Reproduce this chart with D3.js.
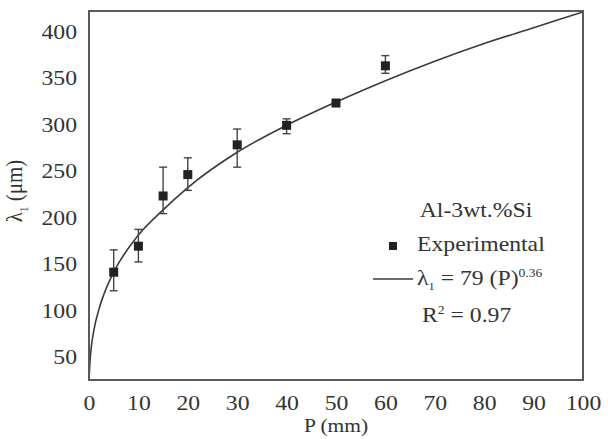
<!DOCTYPE html>
<html>
<head>
<meta charset="utf-8">
<script src="https://cdn.jsdelivr.net/npm/d3@7"></script>
<style>
  body { margin: 0; background: #fff; }
  svg { display: block; }
  text { font-family: "Liberation Serif", "Times New Roman", serif; fill: #333; }
</style>
</head>
<body>
<svg id="chart" width="608" height="439"></svg>
<script>
// ---- data ----
const positions = [5, 10, 15, 20, 30, 40, 50, 60];                 // P (mm)
const spacing   = [141, 169, 223, 246, 278, 299, 323, 363];        // λ1 (µm)
const errLow    = [121, 152, 204, 229, 254, 290, 320, 355];
const errHigh   = [165, 187, 254, 264, 295, 306, 326, 374];
// fitted curve λ1 = 79 (P)^0.36
const fitP      = [0, 0.2, 0.5, 1, 2, 3, 5, 10, 15, 20, 30, 40, 50, 60, 70, 80, 90, 100];
const fitL      = [25, 45, 62, 79, 101, 117, 141, 181, 208, 232, 270, 299, 324, 347, 368, 387, 404, 421];
const xTicks    = [0, 10, 20, 30, 40, 50, 60, 70, 80, 90, 100];
const yTicks    = [50, 100, 150, 200, 250, 300, 350, 400];

const svg = d3.select("#chart");
const m = { left: 89, right: 583, top: 11, bottom: 380 };
const x = d3.scaleLinear().domain([0, 100]).range([m.left, m.right]);
const y = d3.scaleLinear().domain([25, 422]).range([m.bottom, m.top]);
const FS = 21, SX = 1.13;

function label(g, txt, px, py, anchor, size) {
  return g.append("text")
    .attr("transform", `translate(${px},${py}) scale(${SX},1)`)
    .attr("text-anchor", anchor || "start")
    .attr("font-size", size || FS)
    .text(txt);
}

// axes (labels only, no tick marks)
const xAxis = svg.append("g").attr("transform", `translate(0,${m.bottom})`)
  .call(d3.axisBottom(x).tickValues(xTicks).tickSize(0).tickPadding(0));
xAxis.select(".domain").remove();
xAxis.selectAll(".tick text").remove();
xAxis.selectAll(".tick").each(function(d) {
  label(d3.select(this), d, 0, 30, "middle");
});
const yAxis = svg.append("g").attr("transform", `translate(${m.left},0)`)
  .call(d3.axisLeft(y).tickValues(yTicks).tickSize(0).tickPadding(0));
yAxis.select(".domain").remove();
yAxis.selectAll(".tick text").remove();
yAxis.selectAll(".tick").each(function(d) {
  label(d3.select(this), d, -12, 7, "end");
});

// fitted curve (clipped to plot)
svg.append("clipPath").attr("id", "clip").append("rect")
  .attr("x", m.left).attr("y", m.top).attr("width", m.right - m.left).attr("height", m.bottom - m.top);
const line = d3.line().x((d, i) => x(fitP[i])).y(d => y(d)).curve(d3.curveMonotoneX);
svg.append("path").attr("clip-path", "url(#clip)")
  .attr("d", line(fitL)).attr("fill", "none").attr("stroke", "#3a3a3a").attr("stroke-width", 1.6);

// error bars
const eb = svg.append("g").attr("stroke", "#444").attr("stroke-width", 1.4);
positions.forEach((p, i) => {
  const cx = x(p);
  eb.append("line").attr("x1", cx).attr("x2", cx).attr("y1", y(errLow[i])).attr("y2", y(errHigh[i]));
  [errLow[i], errHigh[i]].forEach(v => {
    eb.append("line").attr("x1", cx - 4).attr("x2", cx + 4).attr("y1", y(v)).attr("y2", y(v));
  });
});

// markers
const S = 9;
svg.append("g").selectAll("rect").data(spacing).join("rect")
  .attr("x", (d, i) => x(positions[i]) - S / 2)
  .attr("y", d => y(d) - S / 2)
  .attr("width", S).attr("height", S).attr("fill", "#222");

// frame
svg.append("rect").attr("x", m.left).attr("y", m.top)
  .attr("width", m.right - m.left).attr("height", m.bottom - m.top)
  .attr("fill", "none").attr("stroke", "#5a5a5a").attr("stroke-width", 2);

// axis titles
label(svg, "P (mm)", x(50), 432, "middle", 19);
const yt = svg.append("text")
  .attr("transform", `translate(22,191) rotate(-90) scale(1,${SX})`)
  .attr("text-anchor", "middle").attr("font-size", FS);
yt.append("tspan").text("λ");
yt.append("tspan").attr("font-size", 11).attr("dy", 5).text("1");
yt.append("tspan").attr("dy", -5).text(" (μm)");

// legend
const lg = svg.append("g");
label(lg, "Al-3wt.%Si", 476, 217, "middle");
lg.append("rect").attr("x", 393 - 4).attr("y", 246 - 4).attr("width", 8).attr("height", 8).attr("fill", "#222");
label(lg, "Experimental", 417, 251, "start");
lg.append("line").attr("x1", 373).attr("x2", 413).attr("y1", 279).attr("y2", 279)
  .attr("stroke", "#3a3a3a").attr("stroke-width", 1.6);
const eq = lg.append("text").attr("transform", `translate(417,285) scale(${SX},1)`).attr("font-size", FS);
eq.append("tspan").text("λ");
eq.append("tspan").attr("font-size", 11).attr("dy", 5).text("1");
eq.append("tspan").attr("dy", -5).text(" = 79 (P)");
eq.append("tspan").attr("font-size", 12).attr("dy", -8).text("0.36");
const r2 = lg.append("text").attr("transform", `translate(422,322) scale(${SX},1)`).attr("font-size", FS);
r2.append("tspan").text("R");
r2.append("tspan").attr("font-size", 12).attr("dy", -8).text("2");
r2.append("tspan").attr("dy", 8).text(" = 0.97");
</script>
</body>
</html>
